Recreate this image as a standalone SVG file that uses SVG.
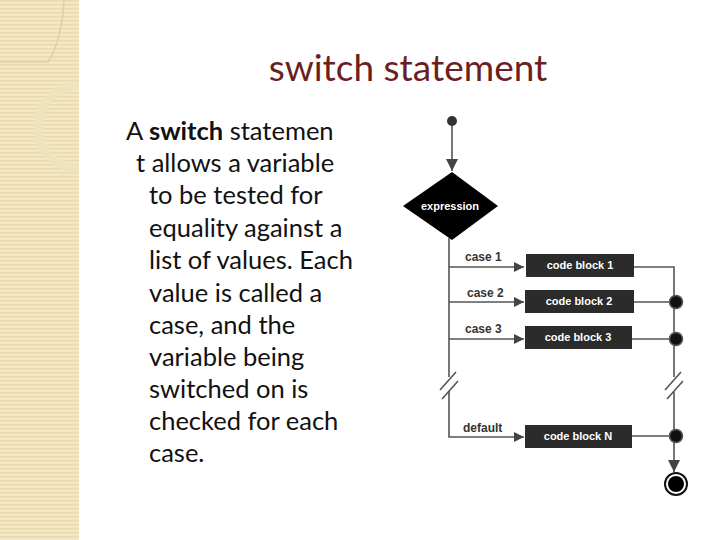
<svg xmlns="http://www.w3.org/2000/svg" width="720" height="540" viewBox="0 0 720 540">
<defs>
<pattern id="stripes" width="6" height="4" patternUnits="userSpaceOnUse"><rect width="6" height="4" fill="#f3e7c6"/><rect width="6" height="1.5" fill="#e9d9ad"/></pattern>
<clipPath id="side"><rect x="0" y="0" width="79" height="540"/></clipPath>
<marker id="ah" viewBox="0 0 10 10" refX="10" refY="5" markerWidth="10" markerHeight="10" markerUnits="userSpaceOnUse" orient="auto"><path d="M0,0 L10,5 L0,10 z" fill="#444"/></marker>
<marker id="ahv" viewBox="0 0 10 10" refX="10" refY="5" markerWidth="12" markerHeight="12" markerUnits="userSpaceOnUse" orient="auto"><path d="M0,0 L10,5 L0,10 z" fill="#444"/></marker>
</defs>
<style>
.body{font-family:Lato,"Open Sans",sans-serif;font-size:25.5px;fill:#111}
.box{fill:#2b2b2b}
.bt{font-family:"Liberation Sans",Arial,sans-serif;font-size:11px;font-weight:bold;fill:#fff;text-anchor:middle}
.lbl{font-family:"Liberation Sans",Arial,sans-serif;font-size:12px;font-weight:bold;fill:#333}
.ln{stroke:#555;stroke-width:1.6;fill:none}
.jn{fill:#111;stroke:#555;stroke-width:1.5}
</style>
<rect width="720" height="540" fill="#fff"/>
<rect x="0" y="0" width="79" height="540" fill="url(#stripes)"/>
<g clip-path="url(#side)">
<path d="M0,62 L48,62 Q62,40 64,0" fill="none" stroke="#e2cf9f" stroke-width="1.5"/>
<circle cx="80" cy="127" r="42" fill="none" stroke="#efe3bd" stroke-width="8"/>
</g>
<text x="408" y="81" text-anchor="middle" font-family="Lato,'Open Sans',sans-serif" font-size="37" fill="#6b1f1f">switch statement</text>
<g class="body">
<text x="126" y="140">A <tspan font-weight="bold">switch</tspan> statemen</text>
<text x="136" y="172">t allows a variable</text>
<text x="149" y="204">to be tested for</text>
<text x="149" y="237">equality against a</text>
<text x="149" y="269">list of values. Each</text>
<text x="149" y="302">value is called a</text>
<text x="149" y="334">case, and the</text>
<text x="149" y="366">variable being</text>
<text x="149" y="398">switched on is</text>
<text x="149" y="430">checked for each</text>
<text x="149" y="462">case.</text>
</g>
<g id="connectors">
<path class="ln" d="M452,121 V171" marker-end="url(#ahv)"/>
<path class="ln" d="M449,238 V377 M449,391 V437 H524" marker-end="url(#ah)"/>
<path class="ln" d="M440,390 L456,372 M442,399 L458,381"/>
<path class="ln" d="M449,267 H524" marker-end="url(#ah)"/>
<path class="ln" d="M449,302 H524" marker-end="url(#ah)"/>
<path class="ln" d="M449,339 H524" marker-end="url(#ah)"/>
<path class="ln" d="M634,267 H674 V377 M674,392 V472" marker-end="url(#ahv)"/>
<path class="ln" d="M665,390 L681,372 M667,399 L683,381"/>
<path class="ln" d="M634,302 H674 M632,339 H674 M632,436 H674"/>
<text class="lbl" x="465" y="261">case 1</text>
<text class="lbl" x="467" y="297">case 2</text>
<text class="lbl" x="465" y="333">case 3</text>
<text class="lbl" x="463" y="432">default</text>
</g>
<g id="start"><circle cx="452" cy="121" r="5" fill="#333"/></g>
<g id="expression"><path d="M452,172 L498,206 L452,240 L403,206 z" fill="#000"/><text class="bt" x="450" y="210">expression</text></g>
<g id="cb1"><rect class="box" x="526" y="254" width="108" height="23"/><text class="bt" x="580" y="269">code block 1</text></g>
<g id="cb2"><rect class="box" x="525" y="290" width="109" height="23"/><text class="bt" x="579" y="305">code block 2</text></g>
<g id="cb3"><rect class="box" x="525" y="326" width="107" height="23"/><text class="bt" x="578" y="341">code block 3</text></g>
<g id="cbN"><rect class="box" x="525" y="425" width="107" height="23"/><text class="bt" x="578" y="440">code block N</text></g>
<g id="j2"><circle class="jn" cx="676" cy="302" r="6.5"/></g>
<g id="j3"><circle class="jn" cx="676" cy="339" r="6.5"/></g>
<g id="jN"><circle class="jn" cx="676" cy="436" r="6.5"/></g>
<g id="end"><circle cx="676" cy="484" r="11" fill="#fff" stroke="#111" stroke-width="2"/><circle cx="676" cy="484" r="8" fill="#000"/></g>
</svg>
